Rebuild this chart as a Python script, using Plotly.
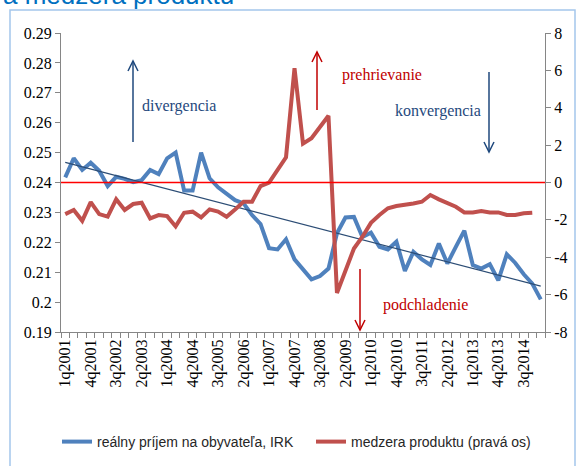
import numpy as np
import plotly.graph_objects as go

quarters = [
    "1q2001", "2q2001", "3q2001", "4q2001",
    "1q2002", "2q2002", "3q2002", "4q2002",
    "1q2003", "2q2003", "3q2003", "4q2003",
    "1q2004", "2q2004", "3q2004", "4q2004",
    "1q2005", "2q2005", "3q2005", "4q2005",
    "1q2006", "2q2006", "3q2006", "4q2006",
    "1q2007", "2q2007", "3q2007", "4q2007",
    "1q2008", "2q2008", "3q2008", "4q2008",
    "1q2009", "2q2009", "3q2009", "4q2009",
    "1q2010", "2q2010", "3q2010", "4q2010",
    "1q2011", "2q2011", "3q2011", "4q2011",
    "1q2012", "2q2012", "3q2012", "4q2012",
    "1q2013", "2q2013", "3q2013", "4q2013",
    "1q2014", "2q2014", "3q2014", "4q2014",
    "1q2015",
]

labelled_quarters = [
    "1q2001", "4q2001", "3q2002", "2q2003", "1q2004", "4q2004", "3q2005",
    "2q2006", "1q2007", "4q2007", "3q2008", "2q2009", "1q2010", "4q2010",
    "3q2011", "2q2012", "1q2013", "4q2013", "3q2014",
]

# real income per capita, IRK (left axis)
irk = [
    0.2417, 0.2481, 0.2442, 0.2466, 0.2439, 0.2388, 0.2419, 0.2412,
    0.2401, 0.2408, 0.2442, 0.2428, 0.2481, 0.2500, 0.2373, 0.2373,
    0.2500, 0.2414, 0.2384, 0.2364, 0.2341, 0.2330, 0.2291, 0.2261,
    0.2180, 0.2176, 0.2210, 0.2143, 0.2107, 0.2076, 0.2087, 0.2112,
    0.2230, 0.2283, 0.2285, 0.2218, 0.2232, 0.2185, 0.2176, 0.2202,
    0.2104, 0.2168, 0.2143, 0.2124, 0.2196, 0.2129, 0.2185, 0.2239,
    0.2124, 0.2112, 0.2127, 0.2073, 0.2160, 0.2131, 0.2093, 0.2062,
    0.2009,
]

# output gap (right axis)
gap = [
    -1.69, -1.47, -2.05, -1.05, -1.69, -1.83, -0.90, -1.47,
    -1.15, -1.08, -1.92, -1.74, -1.80, -2.35, -1.62, -1.56,
    -1.87, -1.44, -1.56, -1.83, -1.44, -1.03, -1.03, -0.19,
    -0.01, 0.67, 1.35, 6.12, 2.08, 2.37, 2.96, 3.57,
    -5.91, -4.69, -3.53, -2.90, -2.16, -1.74, -1.38, -1.26,
    -1.21, -1.12, -1.03, -0.67, -0.90, -1.08, -1.30, -1.60,
    -1.60, -1.53, -1.60, -1.60, -1.74, -1.74, -1.65, -1.62,
    None,
]

left_ticks = [0.19, 0.20, 0.21, 0.22, 0.23, 0.24, 0.25, 0.26, 0.27, 0.28, 0.29]
left_tick_text = ["0.19", "0.2", "0.21", "0.22", "0.23", "0.24", "0.25", "0.26", "0.27", "0.28", "0.29"]
right_ticks = [-8, -6, -4, -2, 0, 2, 4, 6, 8]
right_tick_text = ["-8", "-6", "-4", "-2", "0", "2", "4", "6", "8"]

# linear trend of IRK (as Excel trendline)
idx = np.arange(len(irk))
slope, intercept = np.polyfit(idx, np.array(irk), 1)
trend = list(intercept + slope * idx)

W, H = 577, 466
ML, MR, MT, MB = 61, 32, 33, 134
PW, PH = W - ML - MR, H - MT - MB


def px(x):
    return (x - ML) / PW


def py(y):
    return (H - MB - y) / PH


SERIF = "Liberation Serif, Times New Roman, serif"
SANS = "Liberation Sans, Arial, sans-serif"
AX = "#868686"
BLUE = "#4F81BD"
RED = "#C0504D"
DBLUE = "#1F497D"
ARED = "#C00000"

fig = go.Figure()
fig.add_trace(go.Scatter(x=quarters, y=irk, mode="lines", name="reálny príjem na obyvateľa, IRK",
                         line=dict(color=BLUE, width=4), yaxis="y", legend="legend"))
fig.add_trace(go.Scatter(x=quarters, y=trend, mode="lines", showlegend=False,
                         line=dict(color="#2C4D75", width=1.2), yaxis="y", hoverinfo="skip"))
fig.add_trace(go.Scatter(x=quarters, y=gap, mode="lines", name="medzera produktu (pravá os)",
                         line=dict(color=RED, width=4), yaxis="y2", legend="legend2"))

shapes = []
# zero line of output gap
shapes.append(dict(type="line", xref="paper", x0=0, x1=1, yref="y2", y0=0, y1=0,
                   line=dict(color="#FF0000", width=1.3)))


def arrow(x, y_from, y_tip, color):
    d = 1 if y_tip < y_from else -1  # 1 = pointing up
    res = [dict(type="line", xref="paper", yref="paper", x0=px(x), x1=px(x),
                y0=py(y_from), y1=py(y_tip), line=dict(color=color, width=1.5))]
    wing = y_tip + d * 10
    path = "M {},{} L {},{} L {},{}".format(px(x - 5), py(wing), px(x), py(y_tip), px(x + 5), py(wing))
    res.append(dict(type="path", xref="paper", yref="paper", path=path, line=dict(color=color, width=1.5)))
    return res


shapes += arrow(133, 142, 61, DBLUE)
shapes += arrow(317, 110, 52, ARED)
shapes += arrow(489, 72, 152, DBLUE)
shapes += arrow(360, 269, 330, ARED)

# outer frame
shapes.append(dict(type="rect", xref="paper", yref="paper", x0=px(10), x1=px(575), y0=py(480), y1=py(10),
                   line=dict(color="#A4C6EC", width=1.5), layer="below"))

annotations = []


def label(text, x, y, color):
    annotations.append(dict(text=text, xref="paper", yref="paper", x=px(x), y=py(y),
                            xanchor="center", yanchor="middle", showarrow=False,
                            font=dict(family=SERIF, size=16, color=color)))


label("divergencia", 179, 106, DBLUE)
label("prehrievanie", 382, 75, ARED)
label("konvergencia", 438, 111, DBLUE)
label("podchladenie", 425, 305, ARED)

annotations.append(dict(text="a medzera produktu", xref="paper", yref="paper", x=px(1), y=py(12.5),
                        xanchor="left", yanchor="bottom", showarrow=False,
                        font=dict(family=SANS, size=26, color="#0070C0")))

legend_font = dict(family=SANS, size=14, color="#262626")
legend_y = 1 - 442 / H

fig.update_layout(
    width=W, height=H,
    margin=dict(l=ML, r=MR, t=MT, b=MB, autoexpand=False),
    paper_bgcolor="white", plot_bgcolor="white",
    showlegend=True,
    legend=dict(orientation="h", xref="container", yref="container",
                x=57 / W, xanchor="left", y=legend_y, yanchor="middle",
                font=legend_font, bgcolor="rgba(0,0,0,0)"),
    legend2=dict(orientation="h", xref="container", yref="container",
                 x=311 / W, xanchor="left", y=legend_y, yanchor="middle",
                 font=legend_font, bgcolor="rgba(0,0,0,0)"),
    xaxis=dict(type="category", categoryorder="array", categoryarray=quarters,
               range=[-0.5, len(quarters) - 0.5], automargin=False,
               tickmode="array", tickvals=quarters,
               ticktext=[q if q in labelled_quarters else "" for q in quarters],
               tickangle=-90, tickson="boundaries", ticks="outside", ticklen=5, tickcolor=AX,
               showline=True, linecolor=AX, linewidth=1, showgrid=False, zeroline=False,
               tickfont=dict(family=SERIF, size=16, color="black")),
    yaxis=dict(range=[0.19, 0.29], tickmode="array", tickvals=left_ticks, ticktext=left_tick_text,
               automargin=False,
               ticks="outside", ticklen=5, tickcolor=AX, showline=True, linecolor=AX, linewidth=1,
               showgrid=False, zeroline=False, tickfont=dict(family=SERIF, size=16, color="black")),
    yaxis2=dict(range=[-8, 8], overlaying="y", side="right", tickmode="array", tickvals=right_ticks,
                ticktext=right_tick_text, ticks="outside", ticklen=5, tickcolor=AX, showline=True,
                automargin=False,
                linecolor=AX, linewidth=1, showgrid=False, zeroline=False,
                tickfont=dict(family=SERIF, size=16, color="black")),
    shapes=shapes,
    annotations=annotations,
)

fig.write_html("out.html", config={"displayModeBar": False},
               post_script="document.body.style.margin='0';")
